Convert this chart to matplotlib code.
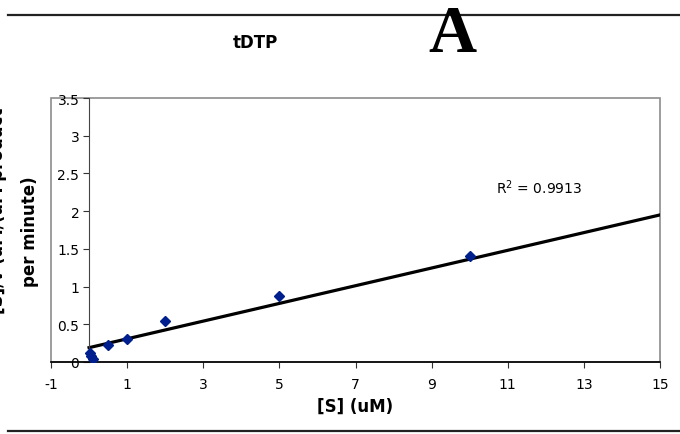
import numpy as np
import matplotlib.pyplot as plt
from matplotlib.lines import Line2D

# data
s_conc = [0.025, 0.05, 0.1, 0.5, 1, 2, 5, 10]
s_over_v = [0.12, 0.08, 0.04, 0.22, 0.31, 0.55, 0.88, 1.40]
fit_x = [0, 15]
fit_y = [0.19, 1.95]
xticks = [-1, 1, 3, 5, 7, 9, 11, 13, 15]
yticks = [0, 0.5, 1, 1.5, 2, 2.5, 3, 3.5]
r2_text = 'R$^2$ = 0.9913'

plt.rcParams['font.family'] = 'DejaVu Sans'
plt.rcParams['axes.unicode_minus'] = False

fig = plt.figure(figsize=(6.8, 4.35), dpi=100)
ax = fig.add_axes([51 / 680, 72 / 435, 609 / 680, 264 / 435])

# fit line and points
ax.plot(fit_x, fit_y, color='black', lw=2.3, zorder=2)
ax.plot(s_conc, s_over_v, 'D', color='#001f8f', markersize=5.5, zorder=3)

ax.set_xlim(-1, 15)
ax.set_ylim(0, 3.5)
ax.set_xticks(xticks)
ax.set_yticks(yticks)
ax.set_yticklabels(['0', '0.5', '1', '1.5', '2', '2.5', '3', '3.5'])

# gray frame around the plot area, y axis crossing at x = 0
ax.patch.set_edgecolor('#8c8c8c')
ax.patch.set_linewidth(1.2)
ax.spines['top'].set_visible(False)
ax.spines['right'].set_visible(False)
ax.spines['left'].set_position(('data', 0))
ax.spines['left'].set_color('#444444')
ax.spines['bottom'].set_color('black')
ax.spines['bottom'].set_linewidth(1.2)
ax.tick_params(axis='x', direction='out', length=4, pad=7, labelsize=10, color='#333333')
ax.tick_params(axis='y', direction='out', length=4, pad=3, labelsize=10, color='#333333')

ax.text(10.68, 2.32, r2_text, fontsize=10, va='center', ha='left')

ax.set_xlabel('[S] (uM)', fontsize=12, fontweight='bold', labelpad=4)

# y label, first line runs off the left edge like the reference
fig.text(-2 / 680, 1 - 211 / 435, '[S]/v (uM/(uM product', rotation=90,
         fontsize=12, fontweight='bold', ha='center', va='center')
fig.text(30 / 680, 1 - 232 / 435, 'per minute)', rotation=90,
         fontsize=12, fontweight='bold', ha='center', va='center')

fig.text(255 / 680, 1 - 43 / 435, 'tDTP', fontsize=12, fontweight='bold',
         ha='center', va='center')
fig.text(452 / 680, 1 - 52 / 435, 'A', fontsize=48, fontweight='bold',
         family='Liberation Serif', ha='center', va='baseline')

# horizontal rules at top and bottom
fig.add_artist(Line2D([8 / 680, 1], [1 - 15.5 / 435] * 2, color='#222222', lw=1.6))
fig.add_artist(Line2D([8 / 680, 1], [1 - 432 / 435] * 2, color='#222222', lw=1.6))

fig.savefig('out.png', dpi=100)
